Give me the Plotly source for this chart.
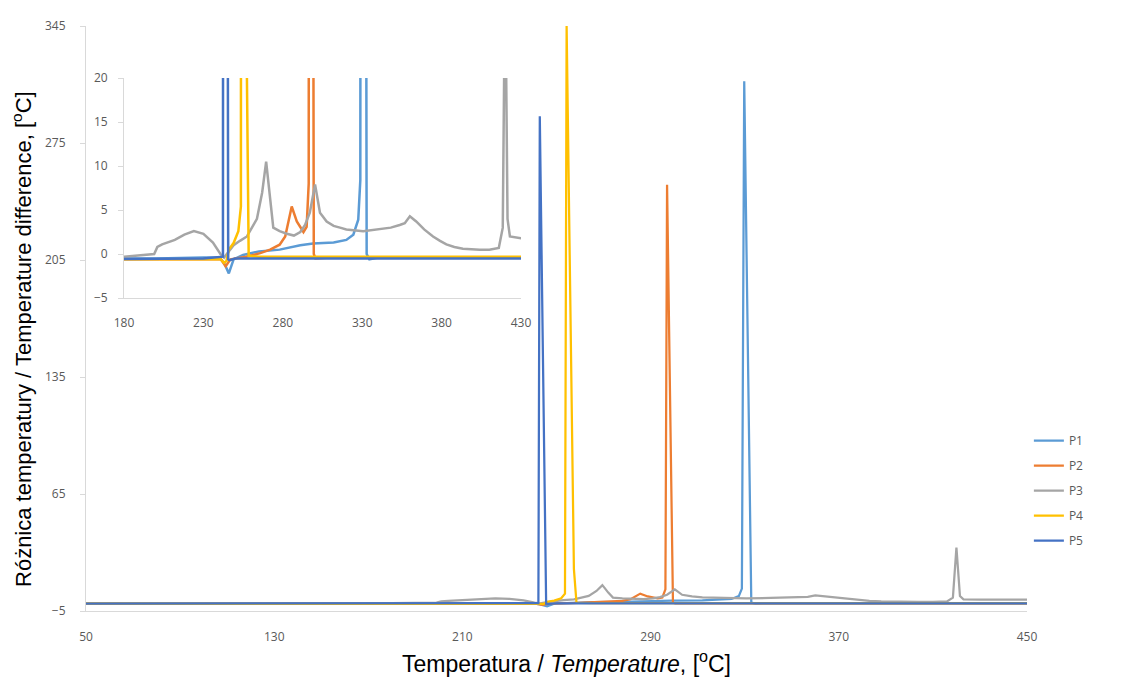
import plotly.graph_objects as go

# ---------------- data ----------------
p1_x = [50, 100, 150, 200, 230, 240, 243, 246, 249, 255, 265, 278, 291, 299, 312, 320, 324.4, 327.5, 328.8, 329.8, 332.8, 334.5, 340, 400, 450]
p1_y = [-0.5, -0.5, -0.5, -0.5, -0.4, -0.4, -1.0, -2.2, -0.6, -0.1, 0.3, 0.5, 1.0, 1.2, 1.3, 1.6, 2.2, 3.9, 8.4, 312, 0.0, -0.6, -0.4, -0.4, -0.4]

p2_x = [50, 150, 230, 241, 244, 247, 257, 265.8, 272, 278, 281.5, 285.6, 288.8, 293, 295, 296.3, 297, 299.5, 300.5, 310, 400, 450]
p2_y = [-0.6, -0.6, -0.6, -0.6, -1.4, -0.6, -0.3, 0.1, 0.5, 1.06, 2.0, 5.4, 3.7, 2.5, 3.1, 8.0, 250, 0.0, -0.5, -0.4, -0.4, -0.4]

p3_x = [50, 100, 150, 180, 199, 201, 204, 212, 218, 224, 230, 236, 240.7, 243, 246, 249, 253, 257.4, 263.7, 267, 269.5, 272, 274,
        278, 282.5, 287, 291, 294, 297, 300.3, 303.4, 307.6, 312, 316, 320, 330.6, 341, 348, 353.6, 356.8, 360, 364, 369, 374.6,
        379, 383, 388, 393.4, 404, 410, 416, 418.5, 420, 421.5, 423, 430, 440, 450]
p3_y = [-0.5, -0.5, -0.4, -0.3, 0.0, 0.8, 1.1, 1.6, 2.2, 2.6, 2.3, 1.3, 0.0, -0.4, 0.3, 1.0, 1.5, 2.0, 4.0, 7.0, 10.5, 6.0, 3.0,
        2.6, 2.3, 2.1, 2.5, 3.3, 4.7, 7.9, 4.7, 3.7, 3.2, 3.0, 2.8, 2.6, 2.8, 3.0, 3.3, 3.5, 4.3, 3.7, 2.8, 2.0,
        1.5, 1.1, 0.8, 0.6, 0.5, 0.5, 0.7, 3.0, 33, 4.0, 2.0, 1.8, 1.8, 1.8]

p4_x = [50, 150, 230, 241, 243, 244.5, 246, 249, 252, 253.6, 254.3, 257.4, 258.5, 265, 350, 450]
p4_y = [-0.6, -0.6, -0.6, -0.6, -1.0, -0.8, 0.5, 1.25, 2.6, 5.4, 345, 20, -0.2, -0.3, -0.3, -0.3]

p5_x = [50, 150, 230, 242.3, 242.9, 245.6, 246.5, 250, 350, 450]
p5_y = [-0.6, -0.6, -0.5, -0.3, 291, -0.6, -0.7, -0.5, -0.5, -0.5]

series_names = ["P1", "P2", "P3", "P4", "P5"]
series_x = [p1_x, p2_x, p3_x, p4_x, p5_x]
series_y = [p1_y, p2_y, p3_y, p4_y, p5_y]
colors = ["#5B9BD5", "#ED7D31", "#A5A5A5", "#FFC000", "#4472C4"]

main_xticks = [50, 130, 210, 290, 370, 450]
main_yticks = [-5, 65, 135, 205, 275, 345]
inset_xticks = [180, 230, 280, 330, 380, 430]
inset_yticks = [-5, 0, 5, 10, 15, 20]

# ---------------- figure ----------------
fig = go.Figure()
for name, xs, ys, c in zip(series_names, series_x, series_y, colors):
    fig.add_trace(go.Scatter(x=xs, y=ys, mode="lines", name=name, legendgroup=name,
                             line=dict(color=c, width=2.25), xaxis="x", yaxis="y"))
for name, xs, ys, c in zip(series_names, series_x, series_y, colors):
    fig.add_trace(go.Scatter(x=xs, y=ys, mode="lines", name=name, showlegend=False,
                             line=dict(color=c, width=2.5), xaxis="x2", yaxis="y2"))

tickfont = dict(family="Open Sans, Noto Sans, sans-serif", size=12, color="#595959")
title_font = dict(family="Liberation Sans Narrow, Liberation Sans, Arial, sans-serif", size=22, color="#000000")
xtitle_font = dict(family="Liberation Sans Narrow, Liberation Sans, Arial, sans-serif", size=23, color="#000000")

fig.update_layout(
    width=1131, height=681,
    margin=dict(l=86, r=104, t=26, b=70),
    paper_bgcolor="white", plot_bgcolor="white",
    showlegend=True,
    legend=dict(x=1.002, y=0.316, xanchor="left", yanchor="top", tracegroupgap=6,
                font=dict(family="Open Sans, Noto Sans, sans-serif", size=12, color="#595959"),
                itemwidth=30, bgcolor="rgba(0,0,0,0)"),
    xaxis=dict(domain=[0, 1], range=[50, 450], tickvals=main_xticks, showgrid=False, zeroline=False,
               showline=True, linecolor="#D9D9D9", linewidth=1, ticks="outside", ticklen=15,
               tickcolor="rgba(0,0,0,0)", tickfont=tickfont),
    yaxis=dict(domain=[0, 1], range=[-5, 345], tickvals=main_yticks, showgrid=False, zeroline=False,
               showline=True, linecolor="#D9D9D9", linewidth=1, ticks="outside", ticklen=5,
               tickcolor="#D9D9D9", ticklabelstandoff=12, tickfont=tickfont),
    xaxis2=dict(domain=[0.0404, 0.4623], range=[180, 430], tickvals=inset_xticks, anchor="y2",
                showgrid=False, zeroline=False, showline=True, linecolor="#D9D9D9", linewidth=1,
                ticks="outside", ticklen=14, tickcolor="rgba(0,0,0,0)", tickfont=tickfont),
    yaxis2=dict(domain=[0.535, 0.911], range=[-5, 20], tickvals=inset_yticks, anchor="x2",
                showgrid=False, zeroline=False, showline=True, linecolor="#D9D9D9", linewidth=1,
                ticks="outside", ticklen=5, tickcolor="#D9D9D9", ticklabelstandoff=8, tickfont=tickfont),
    annotations=[
        dict(text="Różnica temperatury / Temperature difference, [<sup>o</sup>C]", textangle=-90,
             xref="paper", yref="paper", x=-0.068, y=0.465, xanchor="center", yanchor="middle",
             showarrow=False, font=title_font),
        dict(text="Temperatura / <i>Temperature</i>, [<sup>o</sup>C]",
             xref="paper", yref="paper", x=0.511, y=-0.087, xanchor="center", yanchor="middle",
             showarrow=False, font=xtitle_font),
    ],
)

fig.write_html("out.html")
